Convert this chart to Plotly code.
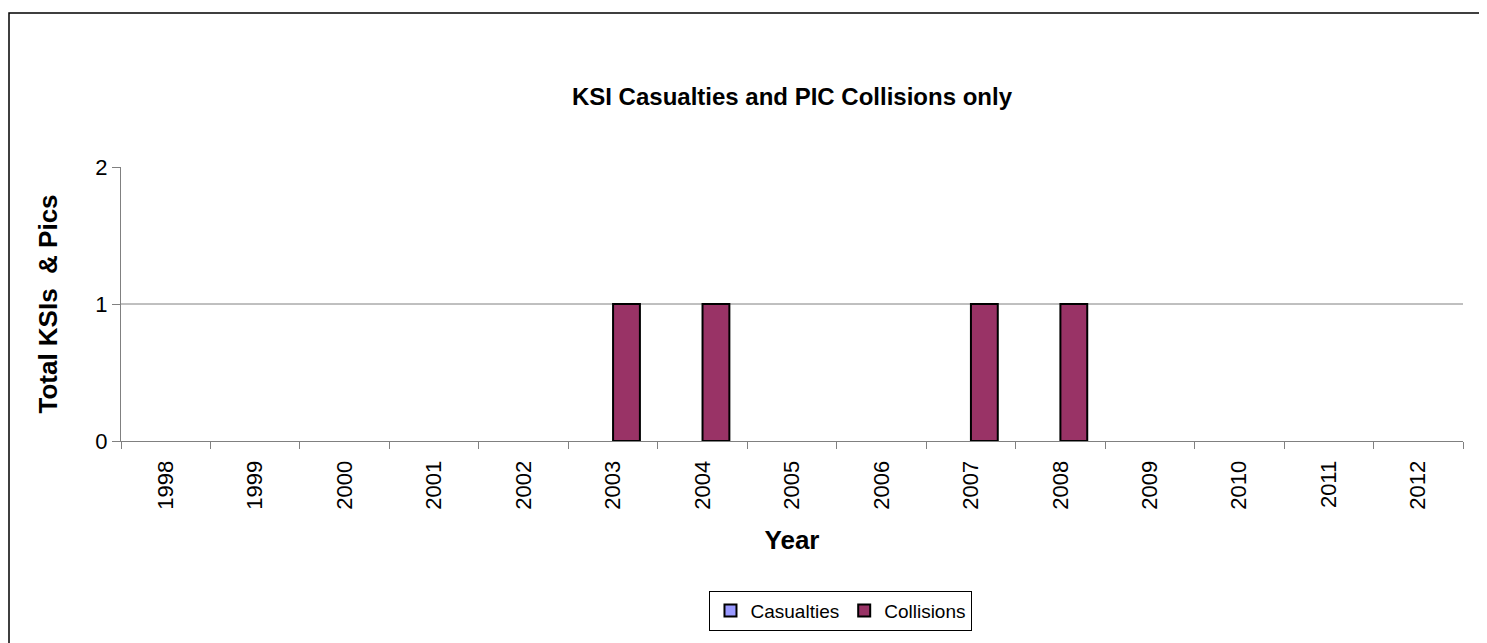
import plotly.graph_objects as go

years = [str(y) for y in range(1998, 2013)]
casualties = [0, 0, 0, 0, 0, 0, 0, 0, 0, 0, 0, 0, 0, 0, 0]
collisions = [0, 0, 0, 0, 0, 1, 1, 0, 0, 1, 1, 0, 0, 0, 0]

FONT = "Liberation Sans, Arial, sans-serif"

# page is drawn with an 8px body offset; figure sized to fill the 1487x643 window
W, H = 1479, 635
L, R, T, B = 113, 24, 159, 200
PW, PH = W - L - R, H - T - B


def drawn(vals):
    # zero-height bars are not drawn (as in the original spreadsheet chart)
    return [v if v > 0 else None for v in vals]


fig = go.Figure()
fig.add_trace(go.Bar(x=years, y=drawn(casualties), name="Casualties",
                     marker=dict(color="#9999FF", line=dict(color="black", width=2))))
fig.add_trace(go.Bar(x=years, y=drawn(collisions), name="Collisions",
                     marker=dict(color="#993366", line=dict(color="black", width=2))))

fig.add_shape(type="line", xref="paper", x0=0, x1=1, yref="y", y0=1, y1=1,
              line=dict(color="#808080", width=1), layer="below")

fig.update_layout(
    width=W, height=H,
    margin=dict(l=L, r=R, t=T, b=B),
    paper_bgcolor="white", plot_bgcolor="white",
    font=dict(family=FONT, color="black", size=20),
    barmode="group", bargap=0.4, bargroupgap=0,
    title=dict(text="<b>KSI Casualties and PIC Collisions only</b>",
               font=dict(size=24), x=0.5, xref="paper", xanchor="center",
               y=1 - 89 / H, yanchor="middle"),
    showlegend=True,
    legend=dict(orientation="h", x=0.5365, xanchor="center", y=-171 / PH, yanchor="middle",
                bordercolor="black", borderwidth=1, font=dict(size=19),
                itemwidth=30, tracegroupgap=0),
    xaxis=dict(type="category", tickangle=-90, showgrid=False,
               showline=True, linecolor="#808080", linewidth=1,
               ticks="outside", tickson="boundaries", ticklen=7, tickcolor="#808080",
               tickfont=dict(size=22), ticklabelstandoff=10,
               title=dict(text="<b>Year</b>", font=dict(size=26), standoff=22)),
    yaxis=dict(range=[0, 2], tickvals=[0, 1, 2], showgrid=False, zeroline=False,
               showline=True, linecolor="#808080", linewidth=1,
               ticks="outside", ticklen=8, tickcolor="#808080",
               tickfont=dict(size=22),
               title=dict(text="<b>Total KSIs  &amp; Pics</b>", font=dict(size=26), standoff=30)),
)

fig.add_shape(type="rect", xref="paper", yref="paper",
              x0=(-L + 1) / PW, x1=1 + 60 / PW, y0=-(B + 40) / PH, y1=1 + (T - 4) / PH,
              line=dict(color="black", width=1.5), fillcolor="rgba(0,0,0,0)")

fig.write_html("out.html")
